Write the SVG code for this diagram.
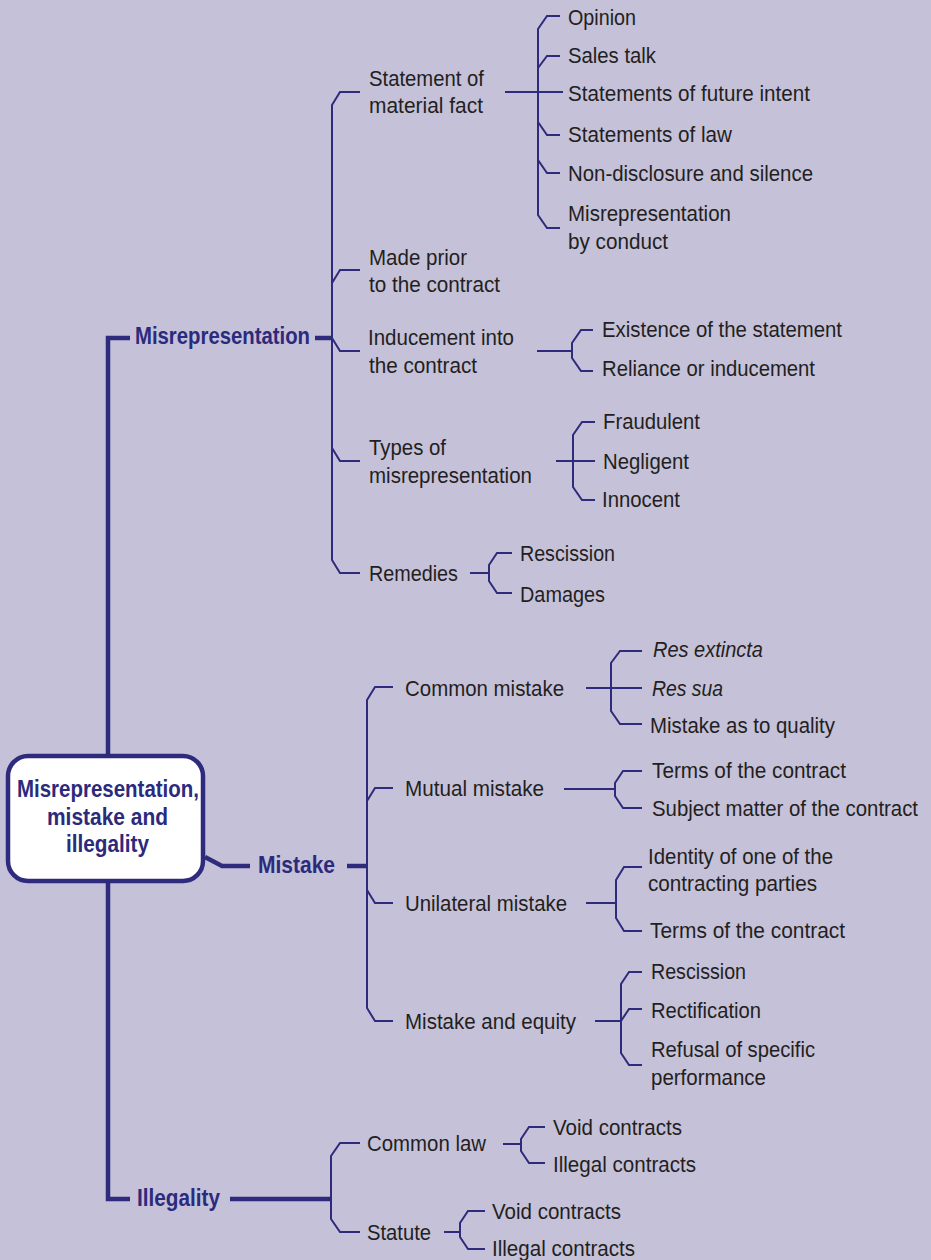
<svg xmlns="http://www.w3.org/2000/svg" width="931" height="1260" viewBox="0 0 931 1260">
  <style>
    .bg { fill: #c5c1d9; }
    .ln { fill: none; stroke: #2e2b7c; stroke-width: 2; stroke-linejoin: miter; }
    .thick { fill: none; stroke: #2e2b7c; stroke-width: 4.5; }
    .t { font-family: "Liberation Sans Narrow", "Liberation Sans", Arial, sans-serif; font-size: 22px; fill: #231f20; }
    .it { font-style: italic; }
    .b { font-family: "Liberation Sans Narrow", "Liberation Sans", Arial, sans-serif; font-size: 24px; font-weight: bold; fill: #2b2a7c; }
    .root { fill: #ffffff; stroke: #2e2b7c; stroke-width: 4.5; }
  </style>
  <rect class="bg" x="0" y="0" width="931" height="1260"/>

  <!-- connectors -->
  <g id="connectors">
    <!-- main trunk -->
    <path class="thick" d="M130,338 H108 V754"/>
    <path class="thick" d="M108,883 V1199 H130"/>
    <path class="thick" d="M205,857 L222,866 H250"/>
    <path class="thick" d="M315,338 H332"/>
    <path class="thick" d="M347,866 H367"/>
    <path class="thick" d="M230,1199 H331"/>

    <!-- misrepresentation branches -->
    <path class="ln" d="M360,92 H340 L332,105 V560 L340,573 H360"/>
    <path class="ln" d="M332,283 L340,270 H360"/>
    <path class="ln" d="M332,338 L340,351 H360"/>
    <path class="ln" d="M332,448 L340,461 H360"/>

    <!-- statement of material fact -->
    <path class="ln" d="M505,92 H563"/>
    <path class="ln" d="M560,16 H547 L538,29 V215 L547,228 H560"/>
    <path class="ln" d="M538,68 L547,56 H560"/>
    <path class="ln" d="M538,122 L547,135 H560"/>
    <path class="ln" d="M538,160 L547,173 H560"/>

    <!-- inducement -->
    <path class="ln" d="M537,351 H572"/>
    <path class="ln" d="M593,330 H581 L572,343 V358 L581,371 H593"/>

    <!-- types -->
    <path class="ln" d="M556,461 H595"/>
    <path class="ln" d="M595,422 H582 L573,435 V487 L582,500 H595"/>

    <!-- remedies -->
    <path class="ln" d="M470,573 H489"/>
    <path class="ln" d="M512,553 H497 L489,565 V581 L497,593 H512"/>

    <!-- mistake branches -->
    <path class="ln" d="M393,687 H375 L367,700 V1008 L375,1021 H393"/>
    <path class="ln" d="M367,801 L375,788 H393"/>
    <path class="ln" d="M367,890 L375,903 H393"/>

    <!-- common mistake -->
    <path class="ln" d="M586,688 H642"/>
    <path class="ln" d="M642,651 H620 L611,663 V711 L620,724 H642"/>

    <!-- mutual mistake -->
    <path class="ln" d="M564,789 H615"/>
    <path class="ln" d="M642,771 H623 L615,783 V796 L623,808 H642"/>

    <!-- unilateral mistake -->
    <path class="ln" d="M586,903 H616"/>
    <path class="ln" d="M642,867 H624 L616,880 V918 L624,931 H642"/>

    <!-- mistake and equity -->
    <path class="ln" d="M595,1021 H621"/>
    <path class="ln" d="M642,972 H629 L621,984 V1053 L629,1065 H642"/>
    <path class="ln" d="M621,1021 L629,1009 H642"/>

    <!-- illegality -->
    <path class="ln" d="M360,1143 H340 L331,1156 V1219 L340,1232 H360"/>
    <path class="ln" d="M503,1144 H521"/>
    <path class="ln" d="M545,1127 H529 L521,1139 V1151 L529,1163 H545"/>
    <path class="ln" d="M444,1232 H460"/>
    <path class="ln" d="M485,1211 H468 L460,1223 V1237 L468,1249 H485"/>
  </g>

  <!-- root -->
  <g id="root">
    <rect class="root" x="8" y="756" width="195" height="125" rx="20" ry="20"/>
    <text class="b" x="17" y="797" textLength="182" lengthAdjust="spacingAndGlyphs">Misrepresentation,</text>
    <text class="b" x="47" y="825" textLength="121" lengthAdjust="spacingAndGlyphs">mistake and</text>
    <text class="b" x="66" y="852" textLength="83" lengthAdjust="spacingAndGlyphs">illegality</text>
  </g>

  <!-- level one -->
  <g id="misrepresentation"><text class="b" x="135" y="344" textLength="175" lengthAdjust="spacingAndGlyphs">Misrepresentation</text></g>
  <g id="mistake"><text class="b" x="258" y="873" textLength="77" lengthAdjust="spacingAndGlyphs">Mistake</text></g>
  <g id="illegality"><text class="b" x="137" y="1206" textLength="83" lengthAdjust="spacingAndGlyphs">Illegality</text></g>

  <!-- misrepresentation subtree -->
  <g id="statement">
    <text class="t" x="369" y="86" textLength="115" lengthAdjust="spacingAndGlyphs">Statement of</text>
    <text class="t" x="369" y="113" textLength="114" lengthAdjust="spacingAndGlyphs">material fact</text>
  </g>
  <g id="opinion"><text class="t" x="568" y="25" textLength="68" lengthAdjust="spacingAndGlyphs">Opinion</text></g>
  <g id="sales-talk"><text class="t" x="568" y="63" textLength="88" lengthAdjust="spacingAndGlyphs">Sales talk</text></g>
  <g id="future-intent"><text class="t" x="568" y="101" textLength="242" lengthAdjust="spacingAndGlyphs">Statements of future intent</text></g>
  <g id="law"><text class="t" x="568" y="142" textLength="164" lengthAdjust="spacingAndGlyphs">Statements of law</text></g>
  <g id="non-disclosure"><text class="t" x="568" y="181" textLength="245" lengthAdjust="spacingAndGlyphs">Non-disclosure and silence</text></g>
  <g id="by-conduct">
    <text class="t" x="568" y="221" textLength="163" lengthAdjust="spacingAndGlyphs">Misrepresentation</text>
    <text class="t" x="568" y="249" textLength="100" lengthAdjust="spacingAndGlyphs">by conduct</text>
  </g>
  <g id="made-prior">
    <text class="t" x="369" y="265" textLength="98" lengthAdjust="spacingAndGlyphs">Made prior</text>
    <text class="t" x="369" y="292" textLength="131" lengthAdjust="spacingAndGlyphs">to the contract</text>
  </g>
  <g id="inducement">
    <text class="t" x="368" y="345" textLength="146" lengthAdjust="spacingAndGlyphs">Inducement into</text>
    <text class="t" x="369" y="373" textLength="108" lengthAdjust="spacingAndGlyphs">the contract</text>
  </g>
  <g id="existence"><text class="t" x="602" y="337" textLength="240" lengthAdjust="spacingAndGlyphs">Existence of the statement</text></g>
  <g id="reliance"><text class="t" x="602" y="376" textLength="213" lengthAdjust="spacingAndGlyphs">Reliance or inducement</text></g>
  <g id="types">
    <text class="t" x="369" y="455" textLength="77" lengthAdjust="spacingAndGlyphs">Types of</text>
    <text class="t" x="369" y="483" textLength="163" lengthAdjust="spacingAndGlyphs">misrepresentation</text>
  </g>
  <g id="fraudulent"><text class="t" x="603" y="429" textLength="97" lengthAdjust="spacingAndGlyphs">Fraudulent</text></g>
  <g id="negligent"><text class="t" x="603" y="469" textLength="86" lengthAdjust="spacingAndGlyphs">Negligent</text></g>
  <g id="innocent"><text class="t" x="602" y="507" textLength="78" lengthAdjust="spacingAndGlyphs">Innocent</text></g>
  <g id="remedies"><text class="t" x="369" y="581" textLength="89" lengthAdjust="spacingAndGlyphs">Remedies</text></g>
  <g id="rescission-1"><text class="t" x="520" y="561" textLength="95" lengthAdjust="spacingAndGlyphs">Rescission</text></g>
  <g id="damages"><text class="t" x="520" y="602" textLength="85" lengthAdjust="spacingAndGlyphs">Damages</text></g>

  <!-- mistake subtree -->
  <g id="common-mistake"><text class="t" x="405" y="696" textLength="159" lengthAdjust="spacingAndGlyphs">Common mistake</text></g>
  <g id="res-extincta"><text class="t it" x="653" y="657" textLength="110" lengthAdjust="spacingAndGlyphs">Res extincta</text></g>
  <g id="res-sua"><text class="t it" x="652" y="696" textLength="71" lengthAdjust="spacingAndGlyphs">Res sua</text></g>
  <g id="quality"><text class="t" x="650" y="733" textLength="185" lengthAdjust="spacingAndGlyphs">Mistake as to quality</text></g>
  <g id="mutual-mistake"><text class="t" x="405" y="796" textLength="139" lengthAdjust="spacingAndGlyphs">Mutual mistake</text></g>
  <g id="terms-1"><text class="t" x="652" y="778" textLength="194" lengthAdjust="spacingAndGlyphs">Terms of the contract</text></g>
  <g id="subject-matter"><text class="t" x="652" y="816" textLength="266" lengthAdjust="spacingAndGlyphs">Subject matter of the contract</text></g>
  <g id="unilateral-mistake"><text class="t" x="405" y="911" textLength="162" lengthAdjust="spacingAndGlyphs">Unilateral mistake</text></g>
  <g id="identity">
    <text class="t" x="648" y="864" textLength="185" lengthAdjust="spacingAndGlyphs">Identity of one of the</text>
    <text class="t" x="648" y="891" textLength="169" lengthAdjust="spacingAndGlyphs">contracting parties</text>
  </g>
  <g id="terms-2"><text class="t" x="650" y="938" textLength="195" lengthAdjust="spacingAndGlyphs">Terms of the contract</text></g>
  <g id="mistake-equity"><text class="t" x="405" y="1029" textLength="171" lengthAdjust="spacingAndGlyphs">Mistake and equity</text></g>
  <g id="rescission-2"><text class="t" x="651" y="979" textLength="95" lengthAdjust="spacingAndGlyphs">Rescission</text></g>
  <g id="rectification"><text class="t" x="651" y="1018" textLength="110" lengthAdjust="spacingAndGlyphs">Rectification</text></g>
  <g id="refusal">
    <text class="t" x="651" y="1057" textLength="164" lengthAdjust="spacingAndGlyphs">Refusal of specific</text>
    <text class="t" x="651" y="1085" textLength="115" lengthAdjust="spacingAndGlyphs">performance</text>
  </g>

  <!-- illegality subtree -->
  <g id="common-law"><text class="t" x="367" y="1151" textLength="119" lengthAdjust="spacingAndGlyphs">Common law</text></g>
  <g id="void-1"><text class="t" x="553" y="1135" textLength="129" lengthAdjust="spacingAndGlyphs">Void contracts</text></g>
  <g id="illegal-1"><text class="t" x="553" y="1172" textLength="143" lengthAdjust="spacingAndGlyphs">Illegal contracts</text></g>
  <g id="statute"><text class="t" x="367" y="1240" textLength="64" lengthAdjust="spacingAndGlyphs">Statute</text></g>
  <g id="void-2"><text class="t" x="492" y="1219" textLength="129" lengthAdjust="spacingAndGlyphs">Void contracts</text></g>
  <g id="illegal-2"><text class="t" x="492" y="1256" textLength="143" lengthAdjust="spacingAndGlyphs">Illegal contracts</text></g>
</svg>
